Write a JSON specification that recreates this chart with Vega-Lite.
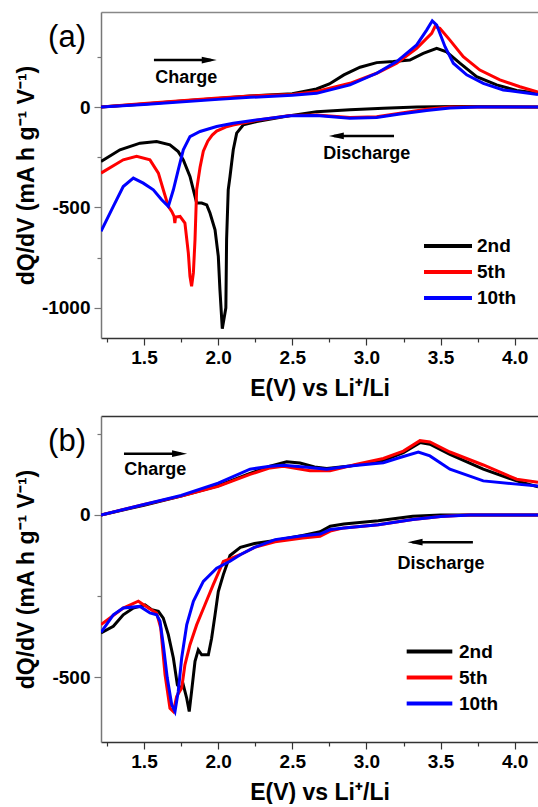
{
"$schema": "https://vega.github.io/schema/vega-lite/v6.json",
"autosize": {"type": "pad"},
"padding": {"left": 15, "top": 12, "right": 0, "bottom": 0},
"spacing": 16,
"config": {
  "font": "Liberation Sans",
  "view": {"stroke": null},
  "axis": {"grid": false, "labelFont": "Liberation Sans", "labelFontWeight": "bold", "labelFontSize": 19, "labelColor": "#000", "titleFont": "Liberation Sans", "titleFontWeight": "bold", "titleFontSize": 23, "titleColor": "#000", "domainWidth": 1.5, "tickWidth": 1.2},
  "legend": {"labelFont": "Liberation Sans", "labelFontWeight": "bold", "labelFontSize": 19, "labelColor": "#000"}
},
"datasets": {
  "a": [
{"cycle":"2nd","branch":"charge","x":1.21,"y":0},{"cycle":"2nd","branch":"charge","x":1.5,"y":15},{"cycle":"2nd","branch":"charge","x":1.8,"y":32},{"cycle":"2nd","branch":"charge","x":2.0,"y":42},{"cycle":"2nd","branch":"charge","x":2.215,"y":55},{"cycle":"2nd","branch":"charge","x":2.5,"y":66},{"cycle":"2nd","branch":"charge","x":2.663,"y":90},{"cycle":"2nd","branch":"charge","x":2.75,"y":115},{"cycle":"2nd","branch":"charge","x":2.848,"y":160},{"cycle":"2nd","branch":"charge","x":2.957,"y":198},{"cycle":"2nd","branch":"charge","x":3.069,"y":221},{"cycle":"2nd","branch":"charge","x":3.181,"y":226},{"cycle":"2nd","branch":"charge","x":3.293,"y":234},{"cycle":"2nd","branch":"charge","x":3.383,"y":267},{"cycle":"2nd","branch":"charge","x":3.474,"y":292},{"cycle":"2nd","branch":"charge","x":3.54,"y":275},{"cycle":"2nd","branch":"charge","x":3.63,"y":218},{"cycle":"2nd","branch":"charge","x":3.743,"y":151},{"cycle":"2nd","branch":"charge","x":3.878,"y":110},{"cycle":"2nd","branch":"charge","x":4.013,"y":82},{"cycle":"2nd","branch":"charge","x":4.157,"y":68},
{"cycle":"5th","branch":"charge","x":1.21,"y":0},{"cycle":"5th","branch":"charge","x":1.5,"y":18},{"cycle":"5th","branch":"charge","x":2.0,"y":45},{"cycle":"5th","branch":"charge","x":2.215,"y":55},{"cycle":"5th","branch":"charge","x":2.5,"y":62},{"cycle":"5th","branch":"charge","x":2.664,"y":77},{"cycle":"5th","branch":"charge","x":2.889,"y":118},{"cycle":"5th","branch":"charge","x":3.069,"y":168},{"cycle":"5th","branch":"charge","x":3.204,"y":218},{"cycle":"5th","branch":"charge","x":3.339,"y":292},{"cycle":"5th","branch":"charge","x":3.44,"y":367},{"cycle":"5th","branch":"charge","x":3.462,"y":400},{"cycle":"5th","branch":"charge","x":3.495,"y":392},{"cycle":"5th","branch":"charge","x":3.563,"y":333},{"cycle":"5th","branch":"charge","x":3.653,"y":250},{"cycle":"5th","branch":"charge","x":3.765,"y":184},{"cycle":"5th","branch":"charge","x":3.9,"y":135},{"cycle":"5th","branch":"charge","x":4.035,"y":101},{"cycle":"5th","branch":"charge","x":4.157,"y":75},
{"cycle":"10th","branch":"charge","x":1.21,"y":0},{"cycle":"10th","branch":"charge","x":1.5,"y":12},{"cycle":"10th","branch":"charge","x":2.0,"y":38},{"cycle":"10th","branch":"charge","x":2.215,"y":48},{"cycle":"10th","branch":"charge","x":2.5,"y":58},{"cycle":"10th","branch":"charge","x":2.664,"y":68},{"cycle":"10th","branch":"charge","x":2.889,"y":110},{"cycle":"10th","branch":"charge","x":3.069,"y":168},{"cycle":"10th","branch":"charge","x":3.204,"y":226},{"cycle":"10th","branch":"charge","x":3.339,"y":309},{"cycle":"10th","branch":"charge","x":3.406,"y":383},{"cycle":"10th","branch":"charge","x":3.444,"y":429},{"cycle":"10th","branch":"charge","x":3.474,"y":408},{"cycle":"10th","branch":"charge","x":3.53,"y":300},{"cycle":"10th","branch":"charge","x":3.586,"y":218},{"cycle":"10th","branch":"charge","x":3.676,"y":160},{"cycle":"10th","branch":"charge","x":3.788,"y":118},{"cycle":"10th","branch":"charge","x":3.923,"y":85},{"cycle":"10th","branch":"charge","x":4.157,"y":62},
{"cycle":"2nd","branch":"discharge","x":1.21,"y":-271},{"cycle":"2nd","branch":"discharge","x":1.338,"y":-213},{"cycle":"2nd","branch":"discharge","x":1.473,"y":-180},{"cycle":"2nd","branch":"discharge","x":1.585,"y":-172},{"cycle":"2nd","branch":"discharge","x":1.675,"y":-188},{"cycle":"2nd","branch":"discharge","x":1.731,"y":-222},{"cycle":"2nd","branch":"discharge","x":1.765,"y":-263},{"cycle":"2nd","branch":"discharge","x":1.81,"y":-346},{"cycle":"2nd","branch":"discharge","x":1.844,"y":-445},{"cycle":"2nd","branch":"discharge","x":1.855,"y":-478},{"cycle":"2nd","branch":"discharge","x":1.889,"y":-478},{"cycle":"2nd","branch":"discharge","x":1.923,"y":-487},{"cycle":"2nd","branch":"discharge","x":1.945,"y":-528},{"cycle":"2nd","branch":"discharge","x":1.979,"y":-611},{"cycle":"2nd","branch":"discharge","x":2.001,"y":-743},{"cycle":"2nd","branch":"discharge","x":2.012,"y":-909},{"cycle":"2nd","branch":"discharge","x":2.028,"y":-1104},{"cycle":"2nd","branch":"discharge","x":2.052,"y":-1000},{"cycle":"2nd","branch":"discharge","x":2.057,"y":-660},{"cycle":"2nd","branch":"discharge","x":2.068,"y":-412},{"cycle":"2nd","branch":"discharge","x":2.08,"y":-346},{"cycle":"2nd","branch":"discharge","x":2.091,"y":-279},{"cycle":"2nd","branch":"discharge","x":2.102,"y":-213},{"cycle":"2nd","branch":"discharge","x":2.125,"y":-130},{"cycle":"2nd","branch":"discharge","x":2.17,"y":-89},{"cycle":"2nd","branch":"discharge","x":2.26,"y":-72},{"cycle":"2nd","branch":"discharge","x":2.44,"y":-48},{"cycle":"2nd","branch":"discharge","x":2.664,"y":-23},{"cycle":"2nd","branch":"discharge","x":2.889,"y":-14},{"cycle":"2nd","branch":"discharge","x":3.114,"y":-6},{"cycle":"2nd","branch":"discharge","x":3.339,"y":0},{"cycle":"2nd","branch":"discharge","x":3.6,"y":2},{"cycle":"2nd","branch":"discharge","x":4.157,"y":0},
{"cycle":"5th","branch":"discharge","x":1.21,"y":-329},{"cycle":"5th","branch":"discharge","x":1.36,"y":-263},{"cycle":"5th","branch":"discharge","x":1.45,"y":-246},{"cycle":"5th","branch":"discharge","x":1.54,"y":-263},{"cycle":"5th","branch":"discharge","x":1.597,"y":-329},{"cycle":"5th","branch":"discharge","x":1.63,"y":-412},{"cycle":"5th","branch":"discharge","x":1.664,"y":-495},{"cycle":"5th","branch":"discharge","x":1.687,"y":-520},{"cycle":"5th","branch":"discharge","x":1.703,"y":-545},{"cycle":"5th","branch":"discharge","x":1.708,"y":-578},{"cycle":"5th","branch":"discharge","x":1.713,"y":-548},{"cycle":"5th","branch":"discharge","x":1.743,"y":-545},{"cycle":"5th","branch":"discharge","x":1.776,"y":-578},{"cycle":"5th","branch":"discharge","x":1.799,"y":-727},{"cycle":"5th","branch":"discharge","x":1.81,"y":-843},{"cycle":"5th","branch":"discharge","x":1.821,"y":-893},{"cycle":"5th","branch":"discharge","x":1.833,"y":-826},{"cycle":"5th","branch":"discharge","x":1.844,"y":-660},{"cycle":"5th","branch":"discharge","x":1.855,"y":-412},{"cycle":"5th","branch":"discharge","x":1.878,"y":-300},{"cycle":"5th","branch":"discharge","x":1.9,"y":-220},{"cycle":"5th","branch":"discharge","x":1.93,"y":-170},{"cycle":"5th","branch":"discharge","x":1.96,"y":-140},{"cycle":"5th","branch":"discharge","x":1.99,"y":-120},{"cycle":"5th","branch":"discharge","x":2.05,"y":-100},{"cycle":"5th","branch":"discharge","x":2.1,"y":-90},{"cycle":"5th","branch":"discharge","x":2.26,"y":-66},{"cycle":"5th","branch":"discharge","x":2.485,"y":-42},{"cycle":"5th","branch":"discharge","x":2.664,"y":-40},{"cycle":"5th","branch":"discharge","x":2.889,"y":-52},{"cycle":"5th","branch":"discharge","x":3.069,"y":-48},{"cycle":"5th","branch":"discharge","x":3.226,"y":-31},{"cycle":"5th","branch":"discharge","x":3.406,"y":-11},{"cycle":"5th","branch":"discharge","x":3.563,"y":0},{"cycle":"5th","branch":"discharge","x":4.157,"y":0},
{"cycle":"10th","branch":"discharge","x":1.21,"y":-619},{"cycle":"10th","branch":"discharge","x":1.293,"y":-495},{"cycle":"10th","branch":"discharge","x":1.36,"y":-396},{"cycle":"10th","branch":"discharge","x":1.428,"y":-354},{"cycle":"10th","branch":"discharge","x":1.495,"y":-379},{"cycle":"10th","branch":"discharge","x":1.563,"y":-412},{"cycle":"10th","branch":"discharge","x":1.619,"y":-462},{"cycle":"10th","branch":"discharge","x":1.664,"y":-495},{"cycle":"10th","branch":"discharge","x":1.698,"y":-412},{"cycle":"10th","branch":"discharge","x":1.731,"y":-313},{"cycle":"10th","branch":"discharge","x":1.765,"y":-213},{"cycle":"10th","branch":"discharge","x":1.81,"y":-147},{"cycle":"10th","branch":"discharge","x":1.878,"y":-122},{"cycle":"10th","branch":"discharge","x":1.99,"y":-97},{"cycle":"10th","branch":"discharge","x":2.102,"y":-81},{"cycle":"10th","branch":"discharge","x":2.26,"y":-64},{"cycle":"10th","branch":"discharge","x":2.485,"y":-44},{"cycle":"10th","branch":"discharge","x":2.664,"y":-42},{"cycle":"10th","branch":"discharge","x":2.889,"y":-56},{"cycle":"10th","branch":"discharge","x":3.069,"y":-52},{"cycle":"10th","branch":"discharge","x":3.226,"y":-35},{"cycle":"10th","branch":"discharge","x":3.406,"y":-17},{"cycle":"10th","branch":"discharge","x":3.563,"y":-5},{"cycle":"10th","branch":"discharge","x":3.75,"y":0},{"cycle":"10th","branch":"discharge","x":4.157,"y":0}
  ],
  "b": [
{"cycle":"2nd","branch":"charge","x":1.21,"y":0},{"cycle":"2nd","branch":"charge","x":1.5,"y":30},{"cycle":"2nd","branch":"charge","x":1.75,"y":58},{"cycle":"2nd","branch":"charge","x":2.0,"y":90},{"cycle":"2nd","branch":"charge","x":2.215,"y":128},{"cycle":"2nd","branch":"charge","x":2.35,"y":150},{"cycle":"2nd","branch":"charge","x":2.462,"y":164},{"cycle":"2nd","branch":"charge","x":2.552,"y":160},{"cycle":"2nd","branch":"charge","x":2.65,"y":148},{"cycle":"2nd","branch":"charge","x":2.732,"y":143},{"cycle":"2nd","branch":"charge","x":2.889,"y":151},{"cycle":"2nd","branch":"charge","x":3.114,"y":168},{"cycle":"2nd","branch":"charge","x":3.249,"y":192},{"cycle":"2nd","branch":"charge","x":3.361,"y":223},{"cycle":"2nd","branch":"charge","x":3.428,"y":218},{"cycle":"2nd","branch":"charge","x":3.563,"y":187},{"cycle":"2nd","branch":"charge","x":3.788,"y":141},{"cycle":"2nd","branch":"charge","x":4.013,"y":105},{"cycle":"2nd","branch":"charge","x":4.157,"y":87},
{"cycle":"5th","branch":"charge","x":1.21,"y":0},{"cycle":"5th","branch":"charge","x":1.5,"y":32},{"cycle":"5th","branch":"charge","x":1.75,"y":58},{"cycle":"5th","branch":"charge","x":2.0,"y":88},{"cycle":"5th","branch":"charge","x":2.215,"y":125},{"cycle":"5th","branch":"charge","x":2.35,"y":145},{"cycle":"5th","branch":"charge","x":2.44,"y":150},{"cycle":"5th","branch":"charge","x":2.619,"y":136},{"cycle":"5th","branch":"charge","x":2.754,"y":136},{"cycle":"5th","branch":"charge","x":2.934,"y":156},{"cycle":"5th","branch":"charge","x":3.114,"y":174},{"cycle":"5th","branch":"charge","x":3.249,"y":197},{"cycle":"5th","branch":"charge","x":3.361,"y":229},{"cycle":"5th","branch":"charge","x":3.428,"y":225},{"cycle":"5th","branch":"charge","x":3.563,"y":194},{"cycle":"5th","branch":"charge","x":3.788,"y":154},{"cycle":"5th","branch":"charge","x":4.013,"y":110},{"cycle":"5th","branch":"charge","x":4.157,"y":101},
{"cycle":"10th","branch":"charge","x":1.21,"y":0},{"cycle":"10th","branch":"charge","x":1.5,"y":32},{"cycle":"10th","branch":"charge","x":1.75,"y":60},{"cycle":"10th","branch":"charge","x":2.0,"y":98},{"cycle":"10th","branch":"charge","x":2.215,"y":141},{"cycle":"10th","branch":"charge","x":2.35,"y":150},{"cycle":"10th","branch":"charge","x":2.44,"y":153},{"cycle":"10th","branch":"charge","x":2.6,"y":147},{"cycle":"10th","branch":"charge","x":2.732,"y":141},{"cycle":"10th","branch":"charge","x":2.889,"y":151},{"cycle":"10th","branch":"charge","x":3.114,"y":161},{"cycle":"10th","branch":"charge","x":3.226,"y":177},{"cycle":"10th","branch":"charge","x":3.35,"y":194},{"cycle":"10th","branch":"charge","x":3.428,"y":182},{"cycle":"10th","branch":"charge","x":3.563,"y":141},{"cycle":"10th","branch":"charge","x":3.788,"y":105},{"cycle":"10th","branch":"charge","x":4.013,"y":95},{"cycle":"10th","branch":"charge","x":4.157,"y":89},
{"cycle":"2nd","branch":"discharge","x":1.21,"y":-364},{"cycle":"2nd","branch":"discharge","x":1.293,"y":-343},{"cycle":"2nd","branch":"discharge","x":1.36,"y":-308},{"cycle":"2nd","branch":"discharge","x":1.428,"y":-287},{"cycle":"2nd","branch":"discharge","x":1.507,"y":-277},{"cycle":"2nd","branch":"discharge","x":1.552,"y":-292},{"cycle":"2nd","branch":"discharge","x":1.597,"y":-297},{"cycle":"2nd","branch":"discharge","x":1.63,"y":-318},{"cycle":"2nd","branch":"discharge","x":1.664,"y":-369},{"cycle":"2nd","branch":"discharge","x":1.698,"y":-441},{"cycle":"2nd","branch":"discharge","x":1.725,"y":-524},{"cycle":"2nd","branch":"discharge","x":1.743,"y":-534},{"cycle":"2nd","branch":"discharge","x":1.765,"y":-524},{"cycle":"2nd","branch":"discharge","x":1.788,"y":-565},{"cycle":"2nd","branch":"discharge","x":1.805,"y":-606},{"cycle":"2nd","branch":"discharge","x":1.821,"y":-544},{"cycle":"2nd","branch":"discharge","x":1.844,"y":-451},{"cycle":"2nd","branch":"discharge","x":1.866,"y":-416},{"cycle":"2nd","branch":"discharge","x":1.889,"y":-431},{"cycle":"2nd","branch":"discharge","x":1.934,"y":-431},{"cycle":"2nd","branch":"discharge","x":1.956,"y":-380},{"cycle":"2nd","branch":"discharge","x":1.979,"y":-308},{"cycle":"2nd","branch":"discharge","x":2.001,"y":-236},{"cycle":"2nd","branch":"discharge","x":2.035,"y":-184},{"cycle":"2nd","branch":"discharge","x":2.08,"y":-125},{"cycle":"2nd","branch":"discharge","x":2.15,"y":-100},{"cycle":"2nd","branch":"discharge","x":2.245,"y":-88},{"cycle":"2nd","branch":"discharge","x":2.384,"y":-79},{"cycle":"2nd","branch":"discharge","x":2.57,"y":-63},{"cycle":"2nd","branch":"discharge","x":2.687,"y":-52},{"cycle":"2nd","branch":"discharge","x":2.756,"y":-35},{"cycle":"2nd","branch":"discharge","x":2.848,"y":-28},{"cycle":"2nd","branch":"discharge","x":3.08,"y":-18},{"cycle":"2nd","branch":"discharge","x":3.312,"y":-4},{"cycle":"2nd","branch":"discharge","x":3.5,"y":0},{"cycle":"2nd","branch":"discharge","x":4.157,"y":0},
{"cycle":"5th","branch":"discharge","x":1.21,"y":-338},{"cycle":"5th","branch":"discharge","x":1.36,"y":-287},{"cycle":"5th","branch":"discharge","x":1.462,"y":-266},{"cycle":"5th","branch":"discharge","x":1.54,"y":-290},{"cycle":"5th","branch":"discharge","x":1.585,"y":-302},{"cycle":"5th","branch":"discharge","x":1.613,"y":-349},{"cycle":"5th","branch":"discharge","x":1.642,"y":-493},{"cycle":"5th","branch":"discharge","x":1.675,"y":-596},{"cycle":"5th","branch":"discharge","x":1.698,"y":-606},{"cycle":"5th","branch":"discharge","x":1.72,"y":-560},{"cycle":"5th","branch":"discharge","x":1.74,"y":-544},{"cycle":"5th","branch":"discharge","x":1.754,"y":-534},{"cycle":"5th","branch":"discharge","x":1.776,"y":-462},{"cycle":"5th","branch":"discharge","x":1.81,"y":-400},{"cycle":"5th","branch":"discharge","x":1.855,"y":-339},{"cycle":"5th","branch":"discharge","x":1.911,"y":-277},{"cycle":"5th","branch":"discharge","x":1.967,"y":-215},{"cycle":"5th","branch":"discharge","x":2.035,"y":-143},{"cycle":"5th","branch":"discharge","x":2.083,"y":-135},{"cycle":"5th","branch":"discharge","x":2.152,"y":-122},{"cycle":"5th","branch":"discharge","x":2.245,"y":-100},{"cycle":"5th","branch":"discharge","x":2.384,"y":-83},{"cycle":"5th","branch":"discharge","x":2.57,"y":-71},{"cycle":"5th","branch":"discharge","x":2.687,"y":-66},{"cycle":"5th","branch":"discharge","x":2.756,"y":-50},{"cycle":"5th","branch":"discharge","x":2.848,"y":-40},{"cycle":"5th","branch":"discharge","x":3.08,"y":-30},{"cycle":"5th","branch":"discharge","x":3.312,"y":-14},{"cycle":"5th","branch":"discharge","x":3.5,"y":-5},{"cycle":"5th","branch":"discharge","x":3.68,"y":0},{"cycle":"5th","branch":"discharge","x":4.157,"y":0},
{"cycle":"10th","branch":"discharge","x":1.21,"y":-362},{"cycle":"10th","branch":"discharge","x":1.293,"y":-308},{"cycle":"10th","branch":"discharge","x":1.36,"y":-287},{"cycle":"10th","branch":"discharge","x":1.473,"y":-282},{"cycle":"10th","branch":"discharge","x":1.54,"y":-302},{"cycle":"10th","branch":"discharge","x":1.585,"y":-308},{"cycle":"10th","branch":"discharge","x":1.608,"y":-328},{"cycle":"10th","branch":"discharge","x":1.63,"y":-400},{"cycle":"10th","branch":"discharge","x":1.657,"y":-503},{"cycle":"10th","branch":"discharge","x":1.687,"y":-585},{"cycle":"10th","branch":"discharge","x":1.709,"y":-606},{"cycle":"10th","branch":"discharge","x":1.731,"y":-544},{"cycle":"10th","branch":"discharge","x":1.754,"y":-441},{"cycle":"10th","branch":"discharge","x":1.788,"y":-339},{"cycle":"10th","branch":"discharge","x":1.833,"y":-266},{"cycle":"10th","branch":"discharge","x":1.9,"y":-205},{"cycle":"10th","branch":"discharge","x":1.99,"y":-164},{"cycle":"10th","branch":"discharge","x":2.08,"y":-143},{"cycle":"10th","branch":"discharge","x":2.152,"y":-122},{"cycle":"10th","branch":"discharge","x":2.245,"y":-100},{"cycle":"10th","branch":"discharge","x":2.384,"y":-76},{"cycle":"10th","branch":"discharge","x":2.57,"y":-64},{"cycle":"10th","branch":"discharge","x":2.687,"y":-59},{"cycle":"10th","branch":"discharge","x":2.756,"y":-45},{"cycle":"10th","branch":"discharge","x":2.848,"y":-40},{"cycle":"10th","branch":"discharge","x":3.08,"y":-30},{"cycle":"10th","branch":"discharge","x":3.312,"y":-14},{"cycle":"10th","branch":"discharge","x":3.5,"y":-5},{"cycle":"10th","branch":"discharge","x":3.7,"y":0},{"cycle":"10th","branch":"discharge","x":4.157,"y":0}
  ],
  "arrows": [
    {"p":"a","x":1.567,"x2":1.95,"y":234,"hx":1.94,"dir":"right"},
    {"p":"a","x":2.78,"x2":3.186,"y":-144,"hx":2.797,"dir":"left"},
    {"p":"b","x":1.365,"x2":1.75,"y":189,"hx":1.74,"dir":"right"},
    {"p":"b","x":3.31,"x2":3.718,"y":-84,"hx":3.328,"dir":"left"}
  ],
  "labels": [
    {"p":"a","text":"Charge","x":1.785,"y":120},
    {"p":"a","text":"Discharge","x":3.002,"y":-259},
    {"p":"b","text":"Charge","x":1.576,"y":123},
    {"p":"b","text":"Discharge","x":3.503,"y":-166}
  ],
  "tags": [
    {"p":"a","text":"(a)","x":0.853,"y":299},
    {"p":"b","text":"(b)","x":0.853,"y":197}
  ]
},
"vconcat": [
  {
    "width": 437, "height": 326,
    "layer": [
      {
        "data": {"name": "a"},
        "mark": {"type": "line", "strokeWidth": 3, "clip": true},
        "encoding": {
          "x": {"field": "x", "type": "quantitative", "scale": {"domain": [1.21, 4.157], "nice": false, "zero": false},
                "axis": {"orient": "bottom", "values": [1.25,1.5,1.75,2.0,2.25,2.5,2.75,3.0,3.25,3.5,3.75,4.0], "labelExpr": "datum.value % 0.5 == 0 ? format(datum.value, '.1f') : ''", "tickSize": {"condition": {"test": "datum.value % 0.5 == 0", "value": 7}, "value": 4}, "labelPadding": 3, "title": "E(V) vs Li⁺/Li", "titlePadding": 10, "domainColor": "#333", "tickColor": "#333"}},
          "y": {"field": "y", "type": "quantitative", "scale": {"domain": [-1150, 473], "nice": false, "zero": false},
                "axis": {"values": [-1000,-750,-500,-250,0,250], "labelExpr": "datum.value % 500 == 0 ? '' + datum.value : ''", "tickSize": {"condition": {"test": "datum.value % 500 == 0", "value": 7}, "value": 4}, "labelPadding": 4, "minExtent": 58, "maxExtent": 58, "title": "dQ/dV (mA h g⁻¹ V⁻¹)", "titlePadding": 5, "domainColor": "#777", "tickColor": "#777"}},
          "color": {"field": "cycle", "type": "nominal", "scale": {"domain": ["2nd","5th","10th"], "range": ["#000000","#ff0000","#0000ff"]},
                    "legend": {"orient": "none", "legendX": 331, "legendY": 218, "title": null, "direction": "vertical", "symbolType": "M-1.714,0H1.714", "symbolSize": 784, "symbolStrokeWidth": 4, "rowPadding": 0, "labelOffset": 13, "padding": 0, "labelFontSize": 19}},
          "detail": {"field": "branch"}
        }
      },
      {
        "data": {"name": "arrows"},
        "transform": [{"filter": "datum.p == 'a'"}],
        "mark": {"type": "rule", "strokeWidth": 2.5, "color": "#000"},
        "encoding": {
          "x": {"field": "x", "type": "quantitative", "axis": null},
          "x2": {"field": "x2"},
          "y": {"field": "y", "type": "quantitative"}
        }
      },
      {
        "data": {"name": "arrows"},
        "transform": [{"filter": "datum.p == 'a'"}],
        "mark": {"type": "point", "filled": true, "size": 225, "color": "#000", "opacity": 1},
        "encoding": {
          "x": {"field": "hx", "type": "quantitative", "axis": null},
          "y": {"field": "y", "type": "quantitative"},
          "shape": {"field": "dir", "type": "nominal", "scale": {"domain": ["right","left"], "range": ["M-1,-0.45L1,0L-1,0.45Z","M1,-0.45L-1,0L1,0.45Z"]}, "legend": null}
        }
      },
      {
        "data": {"name": "tags"},
        "transform": [{"filter": "datum.p == 'a'"}],
        "mark": {"type": "text", "fontSize": 31, "fontWeight": "normal", "font": "Liberation Sans", "baseline": "alphabetic", "align": "left", "color": "#000"},
        "encoding": {
          "x": {"field": "x", "type": "quantitative", "axis": null},
          "y": {"field": "y", "type": "quantitative"},
          "text": {"field": "text"}
        }
      },
      {
        "data": {"name": "labels"},
        "transform": [{"filter": "datum.p == 'a'"}],
        "mark": {"type": "text", "fontSize": 18, "fontWeight": "bold", "font": "Liberation Sans", "baseline": "alphabetic", "align": "center", "color": "#000"},
        "encoding": {
          "x": {"field": "x", "type": "quantitative", "axis": {"orient": "top", "labels": false, "ticks": false, "title": null, "domainColor": "#888", "domainWidth": 1.5}},
          "y": {"field": "y", "type": "quantitative"},
          "text": {"field": "text"}
        }
      }
    ],
    "resolve": {"axis": {"x": "independent"}}
  },
  {
    "width": 437, "height": 326,
    "layer": [
      {
        "data": {"name": "b"},
        "mark": {"type": "line", "strokeWidth": 3, "clip": true},
        "encoding": {
          "x": {"field": "x", "type": "quantitative", "scale": {"domain": [1.21, 4.157], "nice": false, "zero": false},
                "axis": {"orient": "bottom", "values": [1.25,1.5,1.75,2.0,2.25,2.5,2.75,3.0,3.25,3.5,3.75,4.0], "labelExpr": "datum.value % 0.5 == 0 ? format(datum.value, '.1f') : ''", "tickSize": {"condition": {"test": "datum.value % 0.5 == 0", "value": 7}, "value": 4}, "labelPadding": 3, "title": "E(V) vs Li⁺/Li", "titlePadding": 10, "domainColor": "#333", "tickColor": "#333"}},
          "y": {"field": "y", "type": "quantitative", "scale": {"domain": [-700, 305], "nice": false, "zero": false},
                "axis": {"values": [-500,-250,0,250], "labelExpr": "datum.value % 500 == 0 ? '' + datum.value : ''", "tickSize": {"condition": {"test": "datum.value % 500 == 0", "value": 7}, "value": 4}, "labelPadding": 4, "minExtent": 58, "maxExtent": 58, "title": "dQ/dV (mA h g⁻¹ V⁻¹)", "titlePadding": 5, "domainColor": "#777", "tickColor": "#777"}},
          "color": {"field": "cycle", "type": "nominal", "scale": {"domain": ["2nd","5th","10th"], "range": ["#000000","#ff0000","#0000ff"]},
                    "legend": {"orient": "none", "legendX": 312.5, "legendY": 219.5, "title": null, "direction": "vertical", "symbolType": "M-1.63,0H1.63", "symbolSize": 784, "symbolStrokeWidth": 4, "rowPadding": 0, "labelOffset": 13.5, "padding": 0, "labelFontSize": 19}},
          "detail": {"field": "branch"}
        }
      },
      {
        "data": {"name": "arrows"},
        "transform": [{"filter": "datum.p == 'b'"}],
        "mark": {"type": "rule", "strokeWidth": 2.5, "color": "#000"},
        "encoding": {
          "x": {"field": "x", "type": "quantitative", "axis": null},
          "x2": {"field": "x2"},
          "y": {"field": "y", "type": "quantitative"}
        }
      },
      {
        "data": {"name": "arrows"},
        "transform": [{"filter": "datum.p == 'b'"}],
        "mark": {"type": "point", "filled": true, "size": 225, "color": "#000", "opacity": 1},
        "encoding": {
          "x": {"field": "hx", "type": "quantitative", "axis": null},
          "y": {"field": "y", "type": "quantitative"},
          "shape": {"field": "dir", "type": "nominal", "scale": {"domain": ["right","left"], "range": ["M-1,-0.45L1,0L-1,0.45Z","M1,-0.45L-1,0L1,0.45Z"]}, "legend": null}
        }
      },
      {
        "data": {"name": "tags"},
        "transform": [{"filter": "datum.p == 'b'"}],
        "mark": {"type": "text", "fontSize": 31, "fontWeight": "normal", "font": "Liberation Sans", "baseline": "alphabetic", "align": "left", "color": "#000"},
        "encoding": {
          "x": {"field": "x", "type": "quantitative", "axis": null},
          "y": {"field": "y", "type": "quantitative"},
          "text": {"field": "text"}
        }
      },
      {
        "data": {"name": "labels"},
        "transform": [{"filter": "datum.p == 'b'"}],
        "mark": {"type": "text", "fontSize": 18, "fontWeight": "bold", "font": "Liberation Sans", "baseline": "alphabetic", "align": "center", "color": "#000"},
        "encoding": {
          "x": {"field": "x", "type": "quantitative", "axis": {"orient": "top", "labels": false, "ticks": false, "title": null, "domainColor": "#333", "domainWidth": 1.5}},
          "y": {"field": "y", "type": "quantitative"},
          "text": {"field": "text"}
        }
      }
    ],
    "resolve": {"axis": {"x": "independent"}}
  }
],
"resolve": {"scale": {"color": "independent", "shape": "independent"}, "legend": {"color": "independent", "shape": "independent"}}
}
